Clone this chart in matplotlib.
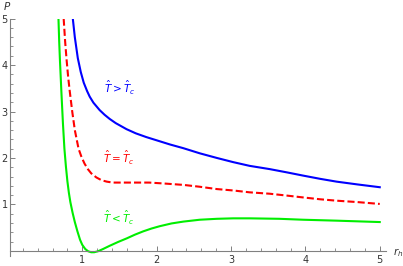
import numpy as np
import matplotlib
matplotlib.use('Agg')
import matplotlib.pyplot as plt
from matplotlib.ticker import MultipleLocator

# isotherms (r_h, P)
r_hi = [0.873, 0.90, 0.94, 0.98, 1.02, 1.065, 1.10, 1.15, 1.234, 1.30, 1.369, 1.45, 1.595,
        1.72, 1.86, 2.02, 2.18, 2.36, 2.58, 2.81, 3.03, 3.25, 3.52, 3.75, 3.97, 4.2, 4.42, 4.7, 5.0]
p_hi = [5.0, 4.6, 4.15, 3.85, 3.62, 3.44, 3.32, 3.19, 3.03, 2.93, 2.84, 2.75, 2.62,
        2.53, 2.45, 2.37, 2.29, 2.21, 2.1, 2.0, 1.91, 1.83, 1.76, 1.69, 1.62, 1.55, 1.49, 1.43, 1.37]

r_c = [0.75, 0.77, 0.79, 0.81, 0.83, 0.865, 0.90, 0.95, 0.99, 1.03, 1.075, 1.12, 1.19, 1.26,
       1.33, 1.41, 1.6, 1.9, 2.1, 2.36, 2.58, 2.81, 3.03, 3.25, 3.52, 3.75, 3.97, 4.2, 4.42, 4.7, 5.0]
p_c = [5.0, 4.5, 4.1, 3.75, 3.46, 3.0, 2.6, 2.2, 2.02, 1.88, 1.76, 1.67, 1.58, 1.52,
       1.49, 1.47, 1.47, 1.47, 1.45, 1.42, 1.38, 1.33, 1.3, 1.26, 1.23, 1.19, 1.15, 1.11, 1.08, 1.05, 1.01]

r_lo = [0.68, 0.69, 0.70, 0.72, 0.74, 0.76, 0.78, 0.80, 0.82, 0.84, 0.87, 0.90, 0.935, 0.97,
        1.0, 1.04, 1.08, 1.12, 1.16, 1.21, 1.28, 1.37, 1.48, 1.6, 1.71, 1.82, 1.93, 2.04, 2.2,
        2.36, 2.58, 2.81, 3.03, 3.25, 3.65, 3.97, 4.42, 5.0]
p_lo = [5.0, 4.5, 4.1, 3.4, 2.75, 2.2, 1.82, 1.5, 1.25, 1.05, 0.82, 0.62, 0.42, 0.24,
        0.13, 0.04, -0.01, -0.03, -0.03, -0.01, 0.04, 0.11, 0.19, 0.27, 0.35, 0.42, 0.48, 0.53, 0.59,
        0.63, 0.67, 0.69, 0.70, 0.70, 0.69, 0.67, 0.65, 0.62]

labels = [r'$\hat{T}>\hat{T}_c$', r'$\hat{T}=\hat{T}_c$', r'$\hat{T}<\hat{T}_c$']
label_pos = [(1.51, 3.51), (1.49, 2.0), (1.49, 0.71)]
colors = ['#0000ff', '#ff0000', '#00ee00']

fig = plt.figure(figsize=(4.03, 2.66), dpi=100)
ax = fig.add_axes([0.024, 0.036, 0.934, 0.894])
ax.set_xlim(0.024, 5.085)
ax.set_ylim(-0.12, 5.0)

ax.plot(r_hi, p_hi, color=colors[0], lw=1.5)
ax.plot(r_c, p_c, color=colors[1], lw=1.5, dashes=(3.4, 1.5))
ax.plot(r_lo, p_lo, color=colors[2], lw=1.5)

for t, (x, y), c in zip(labels, label_pos, colors):
    ax.text(x, y, t, color=c, fontsize=7.5, ha='center', va='center')

axc = '#808080'
for s in ['top', 'right']:
    ax.spines[s].set_visible(False)
ax.spines['bottom'].set_position(('data', 0))
ax.spines['bottom'].set_color(axc)
ax.spines['left'].set_color(axc)
ax.spines['bottom'].set_linewidth(0.8)
ax.spines['left'].set_linewidth(0.8)

ax.set_xticks([1, 2, 3, 4, 5])
ax.set_yticks([1, 2, 3, 4, 5])
ax.xaxis.set_minor_locator(MultipleLocator(0.2))
ax.yaxis.set_minor_locator(MultipleLocator(0.2))
ax.tick_params(which='major', direction='in', length=3.5, width=0.7, color=axc,
               labelsize=7, labelcolor='#333333', pad=2)
ax.tick_params(which='minor', direction='in', length=2, width=0.6, color=axc)
ax.tick_params(axis='x', pad=3)
ax.tick_params(axis='y', pad=1.5)
ax.patch.set_alpha(0)

fig.text(7 / 403, 1 - 6 / 266, '$P$', fontsize=7.5, color='#333333', ha='center', va='center')
fig.text(398 / 403, 1 - 253 / 266, '$r_h$', fontsize=7.5, color='#333333', ha='center', va='center')

fig.savefig('out.png', dpi=100)
